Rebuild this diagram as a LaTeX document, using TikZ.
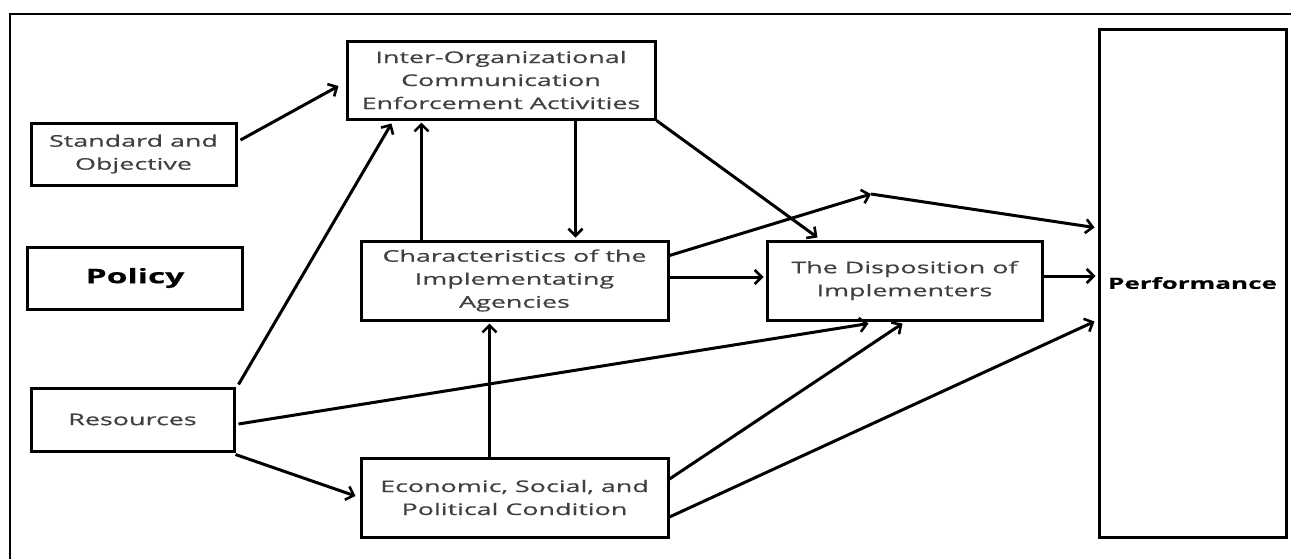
\documentclass[tikz,border=0pt]{standalone}
\usepackage{fontspec}
\setmainfont{Open Sans}[FakeStretch=1.68,FakeBold=0.6]
\usetikzlibrary{arrows.meta,calc}
\definecolor{txt}{HTML}{404040}
\begin{document}
\begin{tikzpicture}[x=1pt,y=-1pt,
  box/.style={draw=black,line width=3pt,align=center,inner sep=0pt,text=txt,
    font=\fontsize{16}{23}\selectfont},
  arr/.style={line width=3pt,-{Straight Barb[length=7pt,width=14pt,line width=2.6pt]}}]
\useasboundingbox (0,0) rectangle (1291,558);
\draw[line width=2.6pt] (10,560) -- (10,14) -- (1295,14);
\node[box,minimum width=308pt,minimum height=78pt] (inter) at (501,80)
  {Inter-Organizational\\Communication\\Enforcement Activities};
\node[box,minimum width=205pt,minimum height=62pt] (std) at (133.5,154) {Standard and\\Objective};
\node[box,minimum width=215pt,minimum height=62pt,text=black,font=\fontsize{20}{24}\selectfont\bfseries] (policy) at (135,278) {Policy};
\node[box,minimum width=307pt,minimum height=79pt] (char) at (514.5,280.5) {Characteristics of the\\Implementating\\Agencies};
\node[box,minimum width=275pt,minimum height=79pt] (disp) at (904.5,280.5) {The Disposition of\\Implementers};
\node[box,minimum width=203pt,minimum height=63pt] (res) at (132.5,419.5) {Resources};
\node[box,minimum width=307pt,minimum height=79pt] (econ) at (514.5,497.5) {Economic, Social, and\\Political Condition};
\node[box,minimum width=187pt,minimum height=508pt,text=black,font=\fontsize{15.5}{20}\selectfont\bfseries] (perf) at (1192.5,283) {Performance};
\coordinate (mid) at (871,194);

\draw[arr] ([xshift=3pt,yshift=14pt]std.east) -- ([xshift=-7pt,yshift=-6pt]inter.west);
\draw[arr] ([xshift=3pt,yshift=2pt]res.north east) -- ([xshift=46pt,yshift=-3pt]inter.south west);
\draw[arr] ([xshift=62pt]char.north west) -- ([xshift=76pt,yshift=-2pt]inter.south west);
\draw[arr] ([xshift=230pt]inter.south west) -- ([xshift=216pt,yshift=2pt]char.north west);
\draw[arr] (inter.south east) -- ([xshift=52pt,yshift=2pt]disp.north west);
\draw[arr] ([yshift=-16pt]char.north east) -- (mid);
\draw[arr] (mid) -- ([xshift=-3pt,yshift=-200pt]perf.north west);
\draw[arr] ([yshift=3.5pt]char.east) -- ([xshift=-2pt,yshift=3.5pt]disp.west);
\draw[arr] ([yshift=4.5pt]disp.east) -- ([xshift=-2pt,yshift=7pt]perf.west);
\draw[arr] ([xshift=3pt,yshift=-4.5pt]res.east) -- ([xshift=103pt,yshift=-2pt]disp.south west);
\draw[arr] ([yshift=-2pt]res.south east) -- ([xshift=-4pt,yshift=1.5pt]econ.west);
\draw[arr] ([xshift=130pt]econ.north west) -- ([xshift=130pt,yshift=-2pt]char.south west);
\draw[arr] ([yshift=18.5pt]econ.east) -- ([xshift=137pt,yshift=-2pt]disp.south west);
\draw[arr] ([yshift=-19.5pt]econ.east) -- ([xshift=-3pt,yshift=-294pt]perf.north west);
\end{tikzpicture}
\end{document}
